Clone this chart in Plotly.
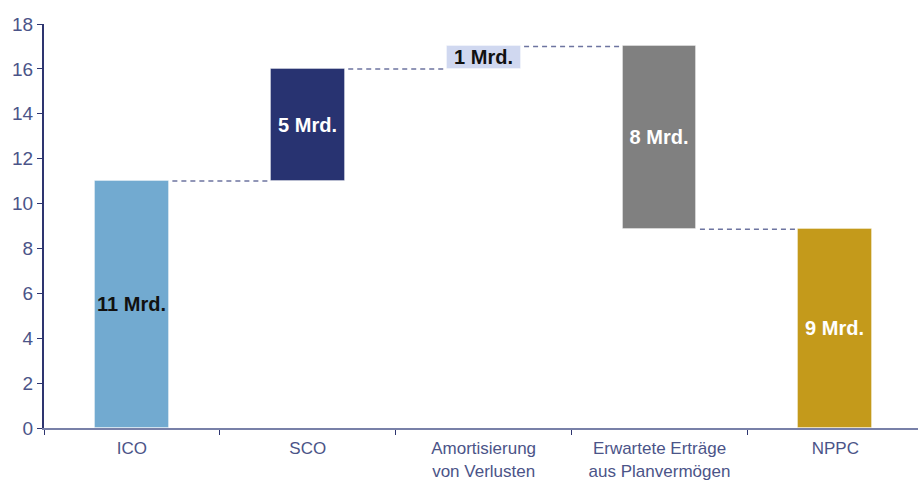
import plotly.graph_objects as go

# Pension cost walk (Mrd.)
categories = ["ICO", "SCO", "Amortisierung<br>von Verlusten", "Erwartete Erträge<br>aus Planvermögen", "NPPC"]
changes = [11, 5, 1, -8.15]          # step contributions
colors = ["#72aad0", "#283371", "#d0d8f0", "#808080", "#c49a1b"]
label_colors = ["#111111", "#ffffff", "#111111", "#ffffff", "#ffffff"]
y_ticks = [0, 2, 4, 6, 8, 10, 12, 14, 16, 18]

# running levels -> bar bases and heights
bases, heights, levels = [], [], []
level = 0.0
for c in changes:
    new_level = level + c
    bases.append(min(level, new_level))
    heights.append(abs(c))
    levels.append(new_level)
    level = new_level
total = level
bases.append(0)
heights.append(total)

labels = [f"{h:.0f} Mrd." for h in heights]
bar_width = 0.42

fig = go.Figure()
fig.add_trace(go.Bar(
    x=categories,
    y=heights,
    base=bases,
    width=bar_width,
    marker=dict(color=colors, line=dict(color="rgba(255,255,255,0.35)", width=1)),
    text=labels,
    textposition="inside",
    insidetextanchor="middle",
    textangle=0,
    constraintext="none",
    textfont=dict(family="Liberation Sans Narrow, Liberation Sans, Arial", size=20,
                  color=label_colors, weight="bold"),
    hoverinfo="skip",
))

# dashed connectors between consecutive bars
for i, lv in enumerate(levels):
    fig.add_shape(
        type="line", xref="x", yref="y",
        x0=i + bar_width / 2 + 0.02, x1=i + 1 - bar_width / 2,
        y0=lv, y1=lv,
        line=dict(color="#6d74a0", width=1.5, dash="5px,4px"),
    )

fig.update_layout(
    width=918, height=482,
    margin=dict(l=44, r=0, t=24, b=54),
    paper_bgcolor="white", plot_bgcolor="white",
    showlegend=False,
    bargap=0,
    font=dict(family="Liberation Sans, Arial", color="#4b5488"),
)
fig.update_xaxes(
    type="category",
    automargin=False,
    tickson="boundaries",
    ticks="outside", ticklen=5, tickcolor="#2e3570", tickwidth=1,
    showline=True, linecolor="#7880a8", linewidth=2,
    showgrid=False, zeroline=False,
    tickfont=dict(size=17, color="#4b5488"),
    ticklabelstandoff=4,
    range=[-0.5, 4.47],
)
fig.update_yaxes(
    automargin=False,
    range=[0, 18],
    tickvals=y_ticks,
    ticks="outside", ticklen=5, tickcolor="#2e3570", tickwidth=1,
    showline=True, linecolor="#2e3570", linewidth=2,
    showgrid=False, zeroline=False,
    tickfont=dict(size=19, color="#4b5488"),
)

fig.write_html("out.html")
